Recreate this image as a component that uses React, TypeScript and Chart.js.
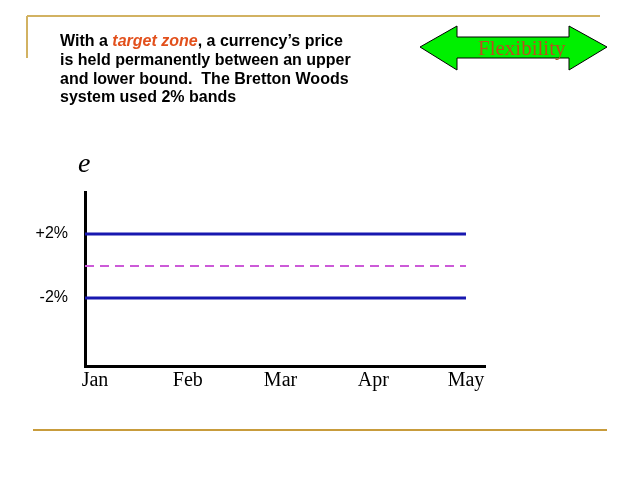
import React, { useEffect, useRef } from "react";
import { Chart, registerables } from "chart.js";

Chart.register(...registerables);

// ---- data ----
const MONTHS = ["Jan", "Feb", "Mar", "Apr", "May"];
const UPPER_BAND = [2, 2, 2, 2, 2];
const PARITY = [0, 0, 0, 0, 0];
const LOWER_BAND = [-2, -2, -2, -2, -2];
const Y_TICK_VALUES = [2, -2];
const Y_TICK_LABELS = ["+2%", "-2%"];
const X_MIN = -0.108;
const X_MAX = 4.205;
const Y_MIN = -6.25;
const Y_MAX = 4.625;

const TEXT_LINES = [
  [
    { t: "With a ", italic: false, color: "#000000" },
    { t: "target zone", italic: true, color: "#e2501c" },
    { t: ", a currency\u2019s price", italic: false, color: "#000000" },
  ],
  [{ t: "is held permanently between an upper", italic: false, color: "#000000" }],
  [{ t: "and lower bound.  The Bretton Woods", italic: false, color: "#000000" }],
  [{ t: "system used 2% bands", italic: false, color: "#000000" }],
];

const series = (vals: number[]) => [
  { x: X_MIN, y: vals[0] },
  ...vals.map((v, i) => ({ x: i, y: v })),
];

const decorPlugin = {
  id: "decor",
  afterDraw(chart: any) {
    const ctx = chart.ctx as CanvasRenderingContext2D;
    ctx.save();
    // gold frame lines
    ctx.strokeStyle = "#d2b262";
    ctx.lineWidth = 2;
    ctx.beginPath();
    ctx.moveTo(27, 16);
    ctx.lineTo(600, 16);
    ctx.moveTo(27, 16);
    ctx.lineTo(27, 58);
    ctx.stroke();
    ctx.strokeStyle = "#c89c3c";
    ctx.beginPath();
    ctx.moveTo(33, 430);
    ctx.lineTo(607, 430);
    ctx.stroke();

    // paragraph
    ctx.textBaseline = "alphabetic";
    TEXT_LINES.forEach((line, li) => {
      let x = 60;
      const y = 46 + li * 18.8;
      line.forEach((seg) => {
        ctx.font = `${seg.italic ? "italic " : ""}bold 16px "Liberation Sans", Arial, sans-serif`;
        ctx.fillStyle = seg.color;
        ctx.fillText(seg.t, x, y);
        x += ctx.measureText(seg.t).width;
      });
    });

    // arrow
    ctx.beginPath();
    const pts = [
      [420, 47], [457, 26], [457, 37], [569, 37], [569, 26],
      [607, 47], [569, 70], [569, 58], [457, 58], [457, 70],
    ];
    pts.forEach(([px, py], i) => (i ? ctx.lineTo(px, py) : ctx.moveTo(px, py)));
    ctx.closePath();
    ctx.fillStyle = "#00f000";
    ctx.fill();
    ctx.strokeStyle = "#000000";
    ctx.lineWidth = 1;
    ctx.stroke();
    ctx.font = '21px "Liberation Serif", "Times New Roman", serif';
    ctx.fillStyle = "#b8501e";
    ctx.fillText("Flexibility", 478, 55);

    // axis name
    ctx.font = 'italic 28px "Liberation Serif", "Times New Roman", serif';
    ctx.fillStyle = "#000000";
    ctx.fillText("e", 78, 172);
    ctx.restore();
  },
};

export default function App() {
  const ref = useRef<HTMLCanvasElement>(null);
  useEffect(() => {
    if (!ref.current) return;
    const chart = new Chart(ref.current, {
      type: "line",
      data: {
        datasets: [
          {
            data: series(UPPER_BAND),
            borderColor: "#1818b0",
            borderWidth: 3,
            pointRadius: 0,
          },
          {
            data: series(PARITY),
            borderColor: "#cc5ad8",
            borderWidth: 2,
            borderDash: [9, 6],
            pointRadius: 0,
          },
          {
            data: series(LOWER_BAND),
            borderColor: "#1818b0",
            borderWidth: 3,
            pointRadius: 0,
          },
        ],
      },
      plugins: [decorPlugin],
      options: {
        animation: false,
        responsive: false,
        devicePixelRatio: 1,
        layout: { padding: { top: 192, right: 153, bottom: 0, left: 0 } },
        plugins: { legend: { display: false }, tooltip: { enabled: false } },
        scales: {
          x: {
            type: "linear",
            min: X_MIN,
            max: X_MAX,
            afterFit: (s: any) => {
              s.height = 113;
            },
            afterBuildTicks: (s: any) => {
              s.ticks = MONTHS.map((_, i) => ({ value: i }));
            },
            ticks: {
              callback: (v: any) => MONTHS[v as number] ?? "",
              color: "#000000",
              padding: 3,
              maxRotation: 0,
              font: { family: '"Liberation Serif", "Times New Roman", serif', size: 20 },
            },
            grid: { display: false, drawTicks: false },
            border: { display: true, color: "#000000", width: 3 },
          },
          y: {
            type: "linear",
            min: Y_MIN,
            max: Y_MAX,
            afterFit: (s: any) => {
              s.width = 85;
            },
            afterBuildTicks: (s: any) => {
              s.ticks = Y_TICK_VALUES.map((v) => ({ value: v }));
            },
            ticks: {
              callback: (v: any) => Y_TICK_LABELS[Y_TICK_VALUES.indexOf(v as number)] ?? "",
              color: "#000000",
              padding: 17,
              font: { family: '"Liberation Sans", Arial, sans-serif', size: 16 },
            },
            grid: { display: false, drawTicks: false },
            border: { display: true, color: "#000000", width: 3 },
          },
        },
      },
    });
    return () => chart.destroy();
  }, []);
  return (
    <div style={{ position: "absolute", left: 0, top: 0, width: 638, height: 479, background: "#ffffff" }}>
      <canvas ref={ref} width={638} height={479} />
    </div>
  );
}
